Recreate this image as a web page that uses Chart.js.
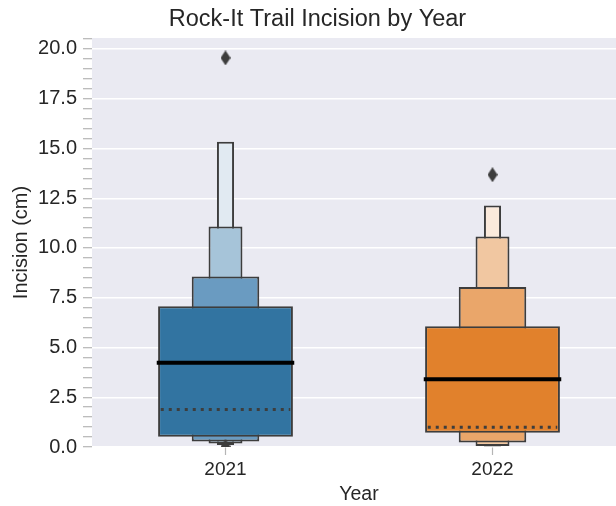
<!DOCTYPE html>
<html>
<head>
<meta charset="utf-8">
<script src="https://cdn.jsdelivr.net/npm/chart.js@4"></script>
<style>
  html, body { margin: 0; padding: 0; background: #fff; overflow: hidden; width: 616px; height: 506px; }
  canvas { display: block; }
</style>
</head>
<body>
<!-- the original axes run a little past the right edge of the picture -->
<canvas id="chart" width="626" height="506"></canvas>
<script>
const years = ['2021', '2022'];

// letter-value boxes as [low, high] per year, widest level first
const level1 = [[0.52, 7.07], [0.72, 6.07]];
const level2 = [[0.28, 8.57], [0.22, 8.04]];
const level3 = [[0.18, 11.08], [0.05, 10.58]];
const level4 = [[0.10, 15.34], [0.02, 12.13]];

const medians = [4.23, 3.41];
const dottedMarks = [1.89, 0.99];
const outliers = [[19.55, 0.02], [13.68]];

const yMajorTicks = [0, 2.5, 5, 7.5, 10, 12.5, 15, 17.5, 20];
const yMinorStep = 0.5;

const blueShades = ['#3274a1', '#6a9bc1', '#a6c4d9', '#e1eaf2'];
const orangeShades = ['#e1812c', '#eaa66a', '#f1c7a1', '#fbeadc'];
const levelWidths = [0.505, 0.253, 0.127, 0.064];
const edgeColor = '#3d3d3d';
const textColor = '#262626';
const tickGray = '#b5b5b5';
const fontFamily = '"Liberation Sans", Arial, sans-serif';

const levels = [level1, level2, level3, level4];

function segments(values, halfWidth) {
    const pts = [];
    values.forEach((v, i) => {
        pts.push({x: i - halfWidth, y: v}, {x: i + halfWidth, y: v});
        if (i < values.length - 1) pts.push({x: i + 0.5, y: null});
    });
    return pts;
}

// tall thin diamond used by seaborn for outliers
const diamond = document.createElement('canvas');
diamond.width = 10;
diamond.height = 15;
const dctx = diamond.getContext('2d');
dctx.fillStyle = edgeColor;
dctx.beginPath();
dctx.moveTo(5, 0);
dctx.lineTo(10, 7.5);
dctx.lineTo(5, 15);
dctx.lineTo(0, 7.5);
dctx.closePath();
dctx.fill();

const datasets = [];

levels.forEach((lvl, k) => {
    datasets.push({
        type: 'bar',
        data: lvl.map((range, i) => ({x: i, y: range})),
        backgroundColor: [blueShades[k], orangeShades[k]],
        borderColor: edgeColor,
        borderWidth: 2,
        borderSkipped: false,
        grouped: false,
        categoryPercentage: 1,
        barPercentage: levelWidths[k],
        order: k + 2
    });
});

datasets.push({
    type: 'line',
    data: segments(medians, levelWidths[0] / 2 + 0.005),
    borderColor: '#000',
    borderWidth: 4,
    pointRadius: 0,
    spanGaps: false,
    order: 0
});

datasets.push({
    type: 'line',
    data: segments(dottedMarks, levelWidths[0] / 2 - 0.01),
    borderColor: edgeColor,
    borderWidth: 3,
    borderDash: [3, 5],
    pointRadius: 0,
    spanGaps: false,
    order: 1
});

const outlierPoints = [];
outliers.forEach((vals, i) => vals.forEach(v => outlierPoints.push({x: i, y: v})));
datasets.push({
    type: 'line',
    data: outlierPoints,
    showLine: false,
    pointStyle: diamond,
    pointRadius: 6,
    order: 1
});

const plotBackground = {
    id: 'plotBackground',
    beforeDraw(chart) {
        const {ctx, chartArea: a} = chart;
        ctx.save();
        ctx.fillStyle = '#eaeaf2';
        ctx.fillRect(a.left, a.top, a.right - a.left, a.bottom - a.top);
        ctx.restore();
    }
};

new Chart(document.getElementById('chart'), {
    type: 'bar',
    data: { datasets: datasets },
    plugins: [plotBackground],
    options: {
        responsive: false,
        animation: false,
        devicePixelRatio: 1,
        layout: { autoPadding: false, padding: { left: 9, right: 0, top: 0, bottom: 0 } },
        plugins: {
            legend: { display: false },
            tooltip: { enabled: false },
            title: {
                display: true,
                text: 'Rock-It Trail Incision by Year',
                color: textColor,
                font: { family: fontFamily, size: 23.5, weight: 'normal' },
                padding: { top: 5, bottom: 4.8 }
            }
        },
        scales: {
            x: {
                type: 'linear',
                min: -0.5,
                max: 1.5,
                offset: false,
                afterBuildTicks: s => { s.ticks = years.map((y, i) => ({value: i})); },
                afterFit: s => { s.height = 59; s.paddingLeft = 0; s.paddingRight = 0; },
                ticks: {
                    callback: v => years[v],
                    color: textColor,
                    font: { family: fontFamily, size: 19 },
                    padding: 3,
                    autoSkip: false,
                    maxRotation: 0
                },
                grid: {
                    drawOnChartArea: false,
                    offset: false,
                    tickLength: 8,
                    tickColor: tickGray,
                    tickWidth: 1.2
                },
                border: { display: false },
                title: {
                    display: true,
                    text: 'Year',
                    color: textColor,
                    font: { family: fontFamily, size: 19.5 },
                    padding: { top: 0, bottom: 0 }
                }
            },
            y: {
                type: 'linear',
                min: 0,
                max: 20.55,
                afterBuildTicks: s => {
                    const t = [];
                    for (let v = 0; v <= 20.5 + 1e-9; v += yMinorStep) t.push({value: Math.round(v * 10) / 10});
                    s.ticks = t;
                },
                afterFit: s => { s.width = 83; s.paddingTop = 0; s.paddingBottom = 0; },
                ticks: {
                    callback: v => yMajorTicks.includes(v) ? v.toFixed(1) : '',
                    color: textColor,
                    font: { family: fontFamily, size: 20 },
                    padding: 6,
                    autoSkip: false
                },
                grid: {
                    color: ctx => (ctx.tick && yMajorTicks.includes(ctx.tick.value)) ? '#ffffff' : 'rgba(0,0,0,0)',
                    lineWidth: 1.4,
                    tickLength: 9,
                    tickColor: tickGray,
                    tickWidth: 1.2
                },
                border: { display: false },
                title: {
                    display: true,
                    text: 'Incision (cm)',
                    color: textColor,
                    font: { family: fontFamily, size: 20 },
                    padding: { top: 0, bottom: 0 }
                }
            }
        }
    }
});
</script>
</body>
</html>
